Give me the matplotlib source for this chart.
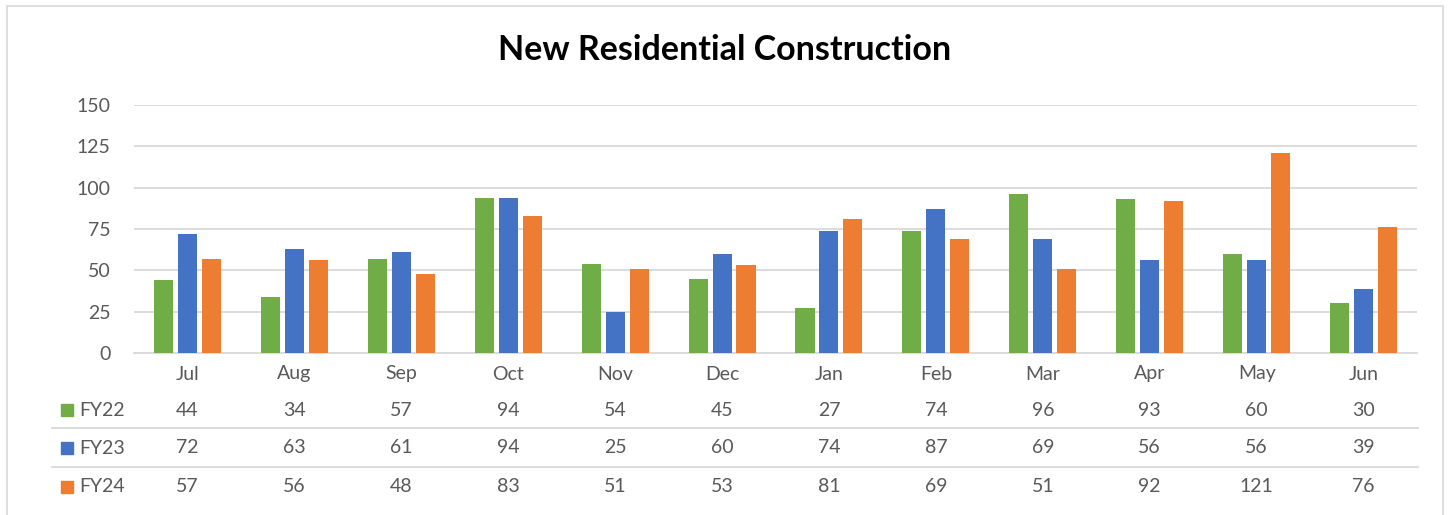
import matplotlib.pyplot as plt
import matplotlib.patches as patches
import numpy as np

months = ["Jul", "Aug", "Sep", "Oct", "Nov", "Dec", "Jan", "Feb", "Mar", "Apr", "May", "Jun"]
series_names = ["FY22", "FY23", "FY24"]
fy22 = [44, 34, 57, 94, 54, 45, 27, 74, 96, 93, 60, 30]
fy23 = [72, 63, 61, 94, 25, 60, 74, 87, 69, 56, 56, 39]
fy24 = [57, 56, 48, 83, 51, 53, 81, 69, 51, 92, 121, 76]
colors = ["#70AD47", "#4472C4", "#ED7D31"]

plt.rcParams['font.family'] = ['Lato', 'DejaVu Sans']
TXT = "#595959"
GRID = "#D9D9D9"

W, H = 1450, 515
fig = plt.figure(figsize=(W / 100, H / 100), dpi=100)


def fx(px):
    return px / W


def fy(py):
    return 1 - py / H


# outer chart border
fig.patches.append(patches.Rectangle((fx(7), fy(530)), fx(1443) - fx(7), fy(6) - fy(530),
                                     transform=fig.transFigure, fill=False,
                                     edgecolor=GRID, linewidth=1.2))

ax = fig.add_axes([fx(134), fy(353), fx(1417) - fx(134), fy(105) - fy(353)])

x = np.arange(len(months))
pitch = 0.224
bw = 0.178
for i, (vals, c) in enumerate(zip([fy22, fy23, fy24], colors)):
    ax.bar(x + (i - 1) * pitch, vals, width=bw, color=c, zorder=3)

ax.set_xlim(-0.5, len(months) - 0.5)
ax.set_ylim(0, 150)
ax.set_yticks(range(0, 151, 25))
ax.yaxis.grid(True, color=GRID, linewidth=1.3, zorder=0)
for s in ["top", "right", "left"]:
    ax.spines[s].set_visible(False)
ax.spines["bottom"].set_color(GRID)
ax.spines["bottom"].set_linewidth(1.3)
ax.set_xticks(x)
ax.set_xticklabels(months)
ax.tick_params(axis="both", length=0, labelsize=14, labelcolor=TXT)
ax.tick_params(axis="y", pad=17)
ax.tick_params(axis="x", pad=9)

fig.text(0.5, fy(50), "New Residential Construction", ha="center", va="center",
         fontsize=24.5, fontweight="bold", color="black")

# data table below the axis
row_px = [409, 447, 486]
trans = ax.get_xaxis_transform()
ax_h = 353 - 105
for r, (name, vals, c) in enumerate(zip(series_names, [fy22, fy23, fy24], colors)):
    yax = (353 - row_px[r] - 1) / ax_h
    for xi, v in zip(x, vals):
        ax.text(xi, yax, str(v), transform=trans, ha="center", va="center",
                fontsize=14, color=TXT, clip_on=False)
    fig.patches.append(patches.Rectangle((fx(61), fy(row_px[r] + 7)), fx(12), 12 / H,
                                         transform=fig.transFigure, color=c))
    fig.text(fx(79), fy(row_px[r] + 1), name, ha="left", va="center", fontsize=14, color=TXT)

for py in [428, 467]:
    fig.add_artist(plt.Line2D([fx(52), fx(1418)], [fy(py), fy(py)], transform=fig.transFigure,
                              color=GRID, linewidth=1.3))

fig.savefig("out.png", dpi=100)
